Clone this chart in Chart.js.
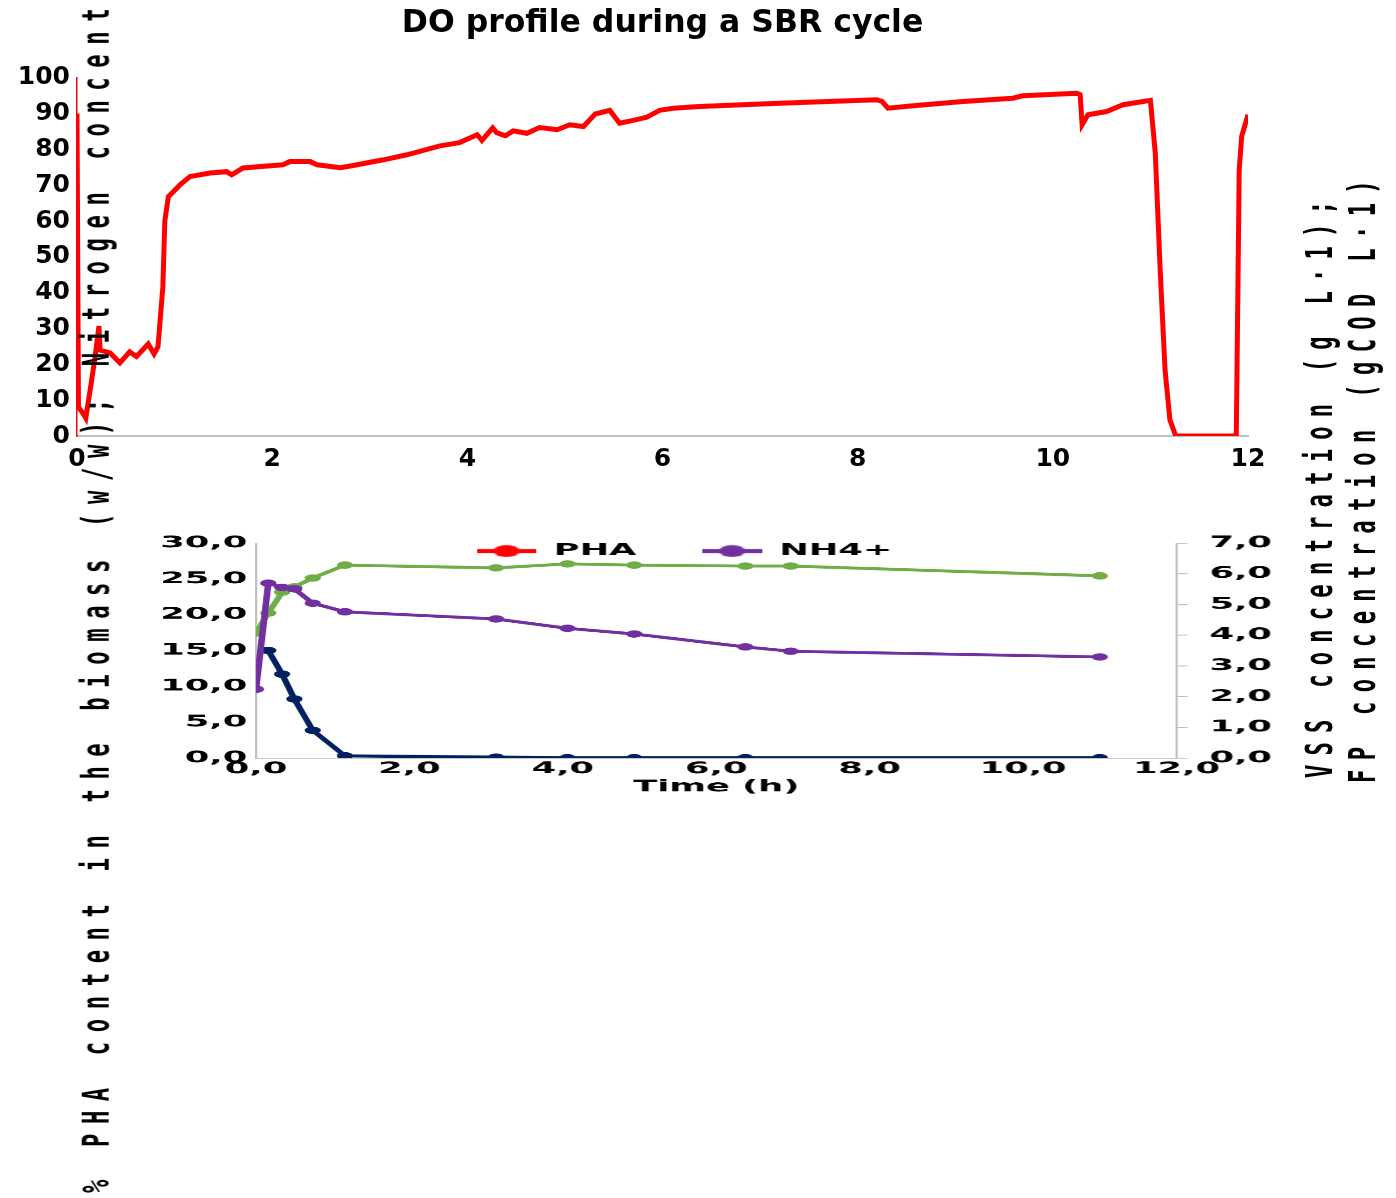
<!DOCTYPE html>
<html><head><meta charset="utf-8">
<script src="https://cdn.jsdelivr.net/npm/chart.js@4.4.0/dist/chart.umd.min.js"></script>
<style>
html,body{margin:0;padding:0;background:#fff;}
body{width:1396px;height:1198px;overflow:hidden;position:relative;}
#topChart{position:absolute;left:0;top:0;}
#botChart{position:absolute;left:140px;top:520px;transform:scaleX(2.2);transform-origin:0 0;}
.vt{position:absolute;left:0;top:0;transform-origin:0 0;white-space:nowrap;font-family:"DejaVu Sans Mono";font-weight:bold;font-size:37px;line-height:37px;color:#000;pointer-events:none;}
</style></head><body>
<canvas id="topChart" width="1396" height="480"></canvas>
<canvas id="botChart" width="528" height="290"></canvas>
<div class="vt" id="leftTitle" style="transform:translate(77.7px,1193px) rotate(-90deg) scaleX(0.6);letter-spacing:16px;">% PHA content in the biomass (w/w); Nitrogen concentration (g N L·1)</div>
<div class="vt" id="rightTitle1" style="transform:translate(1300.7px,778px) rotate(-90deg) scaleX(0.6);letter-spacing:15.3px;">VSS concentration (g L·1);</div>
<div class="vt" id="rightTitle2" style="transform:translate(1343.7px,783px) rotate(-90deg) scaleX(0.6);letter-spacing:15.5px;">FP concentration (gCOD L·1)</div>
<script>
// ---------- top chart data (DO profile) ----------
const doTime = [0, 0.015, 0.06, 0.09, 0.13, 0.18, 0.225, 0.236, 0.34, 0.44, 0.54, 0.61, 0.73, 0.79, 0.83, 0.88, 0.90, 0.936, 0.987, 1.055, 1.158, 1.363, 1.534, 1.585, 1.70, 2.11, 2.18, 2.39, 2.46, 2.70, 2.83, 3.14, 3.38, 3.72, 3.92, 4.10, 4.15, 4.26, 4.30, 4.39, 4.47, 4.61, 4.74, 4.92, 5.05, 5.19, 5.31, 5.46, 5.56, 5.70, 5.84, 5.97, 6.11, 6.38, 7.20, 8.195, 8.25, 8.31, 8.57, 9.08, 9.59, 9.69, 10.245, 10.28, 10.30, 10.36, 10.55, 10.72, 11.0, 11.05, 11.10, 11.15, 11.20, 11.26, 11.88, 11.91, 11.935, 12.0];
const doValues = [90, 8, 6.4, 5, 12, 21, 30.7, 24, 23.2, 20.4, 23.5, 22.2, 25.7, 22.9, 24.9, 41.7, 60, 66.8, 68.2, 70.1, 72.4, 73.4, 73.8, 72.9, 74.8, 75.7, 76.6, 76.6, 75.7, 74.9, 75.5, 77.1, 78.5, 81, 81.9, 84.1, 82.5, 86, 84.7, 83.8, 85.2, 84.5, 86.1, 85.5, 86.9, 86.4, 89.9, 90.9, 87.3, 88.1, 89, 90.9, 91.5, 92, 92.9, 93.9, 93.4, 91.5, 92.2, 93.4, 94.3, 95, 95.7, 95.3, 86.9, 89.7, 90.6, 92.5, 93.7, 79, 46.4, 18.4, 4.5, 0, 0, 74.3, 83.6, 89.7];
const topXTickValues = [0, 2, 4, 6, 8, 10, 12];
const topXTickLabels = ['0', '2', '4', '6', '8', '10', '12'];
const topYTickValues = [0, 10, 20, 30, 40, 50, 60, 70, 80, 90, 100];
const topYTickLabels = ['0', '10', '20', '30', '40', '50', '60', '70', '80', '90', '100'];

// ---------- bottom chart data ----------
const sampleTime = [0, 0.16, 0.34, 0.5, 0.74, 1.16, 3.13, 4.06, 4.93, 6.38, 6.97, 11.0];
const nh4Values = [9.6, 24.4, 23.8, 23.6, 21.6, 20.4, 19.4, 18.1, 17.3, 15.5, 14.9, 14.1];
const vssValues = [4.07, 4.72, 5.40, 5.57, 5.86, 6.28, 6.19, 6.32, 6.28, 6.25, 6.25, 5.93];
const fpTime = [0.16, 0.34, 0.5, 0.74, 1.16, 3.13, 4.06, 4.93, 6.38, 11.0];
const fpValues = [3.50, 2.73, 1.92, 0.90, 0.07, 0.03, 0.01, 0.01, 0.01, 0.01];
const phaValues = [];
const botXTickValues = [0, 2, 4, 6, 8, 10, 12];
const botXTickLabels = ['0,0', '2,0', '4,0', '6,0', '8,0', '10,0', '12,0'];
const botYTickValues = [0, 5, 10, 15, 20, 25, 30];
const botYTickLabels = ['0,0', '5,0', '10,0', '15,0', '20,0', '25,0', '30,0'];
const botY2TickValues = [0, 1, 2, 3, 4, 5, 6, 7];
const botY2TickLabels = ['0,0', '1,0', '2,0', '3,0', '4,0', '5,0', '6,0', '7,0'];

Chart.defaults.font.family = 'DejaVu Sans';
Chart.defaults.color = '#000';

const pts = (xs, ys) => xs.map((x, i) => ({x: x, y: ys[i]}));
const setTicks = (vals) => (scale) => { scale.ticks = vals.map(v => ({value: v})); };
const lab = (vals, labels) => (v) => { const i = vals.indexOf(v); return i >= 0 ? labels[i] : ''; };

// ---------- top chart ----------
const bigFont = {family: 'DejaVu Sans', size: 25, weight: 'bold'};
new Chart(document.getElementById('topChart'), {
  type: 'line',
  data: {datasets: [{
    label: 'DO', data: pts(doTime, doValues),
    borderColor: '#FF0000', borderWidth: 5, pointRadius: 0, tension: 0, fill: false
  }]},
  options: {
    responsive: false, animation: false, devicePixelRatio: 1,
    layout: {padding: {left: 0, right: 148, top: 0, bottom: 0}},
    plugins: {
      legend: {display: false}, tooltip: {enabled: false},
      title: {display: true, fullSize: false, text: 'DO profile during a SBR cycle', color: '#000',
        font: {family: 'DejaVu Sans', size: 31.5, weight: 'bold'}, padding: {top: 5, bottom: 35}}
    },
    scales: {
      x: {type: 'linear', min: 0, max: 12,
        afterBuildTicks: setTicks(topXTickValues),
        afterFit: (s) => { s.height = 44; },
        grid: {display: false, drawTicks: false},
        border: {display: true, color: '#C0C0C0', width: 2},
        ticks: {font: bigFont, color: '#000', padding: 8, maxRotation: 0, autoSkip: false,
          callback: lab(topXTickValues, topXTickLabels)}},
      y: {type: 'linear', min: 0, max: 100,
        afterBuildTicks: setTicks(topYTickValues),
        afterFit: (s) => { s.width = 77; },
        grid: {display: false, drawTicks: false},
        border: {display: true, color: '#FF0000', width: 1.5},
        ticks: {font: bigFont, color: '#000', padding: 7, autoSkip: false,
          callback: lab(topYTickValues, topYTickLabels)}}
    }
  }
});

// ---------- bottom chart ----------
function legendIcon(color) {
  const c = document.createElement('canvas');
  c.width = 27; c.height = 14;
  const g = c.getContext('2d');
  g.strokeStyle = color; g.lineWidth = 4;
  g.beginPath(); g.moveTo(0, 7); g.lineTo(27, 7); g.stroke();
  g.fillStyle = color;
  g.beginPath(); g.arc(13.5, 7, 6, 0, Math.PI * 2); g.fill();
  return c;
}
const legendIcons = {0: legendIcon('#FF0000'), 1: legendIcon('#7030A0')};
const LEGEND_PAD = 30;
// legend overlaps the top of the plot area (as in the reference)
const legendOverlay = {
  id: 'legendOverlay',
  beforeLayout(chart) {
    const l = chart.legend;
    if (l && !l._overlayPatched) {
      const origFit = l.fit;
      l.fit = function () { origFit.call(this); this._realHeight = this.height; this.height = 0; };
      l._overlayPatched = true;
    }
  },
  afterLayout(chart) {
    const l = chart.legend;
    if (!l) return;
    const h = l._realHeight || 60;
    l.top = chart.chartArea.top - LEGEND_PAD;
    l.height = h; l.bottom = l.top + h;
    const x1 = (l.left + LEGEND_PAD + l.right - l.lineWidths[0]) / 2;
    const d = 153 - x1;
    l.left += d; l.right += d;
  }
};
const smallFont = {family: 'DejaVu Sans', size: 16, weight: 'bold'};
const axisGrey = '#BFBFBF';
new Chart(document.getElementById('botChart'), {
  type: 'line',
  data: {datasets: [
    {label: 'PHA', data: phaValues, borderColor: '#FF0000', backgroundColor: '#FF0000', yAxisID: 'y'},
    {label: 'NH4+', data: pts(sampleTime, nh4Values), borderColor: '#7030A0', backgroundColor: '#7030A0',
      pointBackgroundColor: '#7030A0', yAxisID: 'y'},
    {label: 'VSS', data: pts(sampleTime, vssValues), borderColor: '#70AD47', backgroundColor: '#70AD47',
      pointBackgroundColor: '#70AD47', yAxisID: 'y2'},
    {label: 'FP', data: pts(fpTime, fpValues), borderColor: '#002060', backgroundColor: '#002060',
      pointBackgroundColor: '#002060', yAxisID: 'y2'}
  ]},
  options: {
    responsive: false, animation: false, devicePixelRatio: 2.2,
    layout: {padding: {top: 23, left: 0, right: 0, bottom: 0}},
    elements: {line: {borderWidth: 3, tension: 0, fill: false}, point: {radius: 3.2, borderWidth: 1}},
    plugins: {
      tooltip: {enabled: false}, title: {display: false},
      legend: {display: true, position: 'top', align: 'center', fullSize: false,
        labels: {usePointStyle: true, pointStyleWidth: 27, boxHeight: 14, padding: LEGEND_PAD, font: smallFont, color: '#000',
          generateLabels(chart) {
            const items = Chart.defaults.plugins.legend.labels.generateLabels(chart);
            return items.filter(it => it.datasetIndex < 2).map(it => { it.pointStyle = legendIcons[it.datasetIndex]; return it; });
          }}}
    },
    scales: {
      x: {type: 'linear', min: 0, max: 12,
        afterBuildTicks: setTicks(botXTickValues),
        afterFit: (s) => { s.height = 52; },
        grid: {display: false, drawTicks: false},
        border: {display: true, color: axisGrey, width: 1},
        ticks: {font: smallFont, color: '#000', padding: 1.5, maxRotation: 0, autoSkip: false,
          callback: lab(botXTickValues, botXTickLabels)},
        title: {display: true, text: 'Time (h)', font: smallFont, color: '#000', padding: {top: 0, bottom: 13}}},
      y: {type: 'linear', position: 'left', min: 0, max: 30,
        afterBuildTicks: setTicks(botYTickValues),
        afterFit: (s) => { s.width = 52.7; },
        grid: {display: false, drawTicks: false},
        border: {display: true, color: axisGrey, width: 1},
        ticks: {font: smallFont, color: '#000', padding: 4, autoSkip: false,
          callback: lab(botYTickValues, botYTickLabels)}},
      y2: {type: 'linear', position: 'right', min: 0, max: 7,
        afterBuildTicks: setTicks(botY2TickValues),
        afterFit: (s) => { s.width = 57.1; },
        grid: {display: true, drawOnChartArea: false, drawTicks: true, tickLength: 5, color: axisGrey, lineWidth: 1},
        border: {display: true, color: axisGrey, width: 1},
        ticks: {font: smallFont, color: '#000', padding: 10, autoSkip: false,
          callback: lab(botY2TickValues, botY2TickLabels)}}
    }
  },
  plugins: [legendOverlay]
});
</script>
</body></html>
